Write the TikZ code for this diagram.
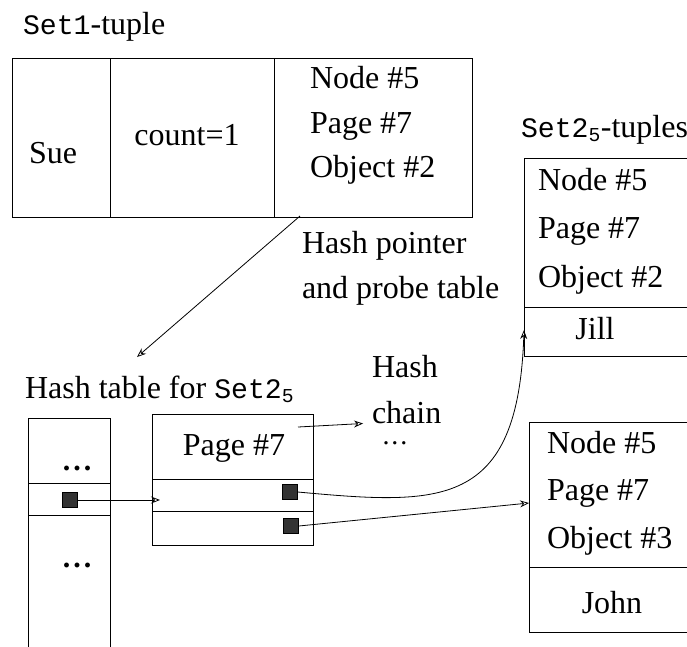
\documentclass[tikz,border=0pt]{standalone}
\usepackage{fontspec}
\setmainfont{Liberation Serif}
\setmonofont[Scale=0.88]{Liberation Mono}
\usetikzlibrary{arrows.meta,calc}

\tikzset{
  box/.style={draw, line width=0.9pt, inner sep=0pt, outer sep=0pt, anchor=north west},
  txt/.style={inner sep=0pt, outer sep=0pt, anchor=base west, font=\fontsize{32}{38}\selectfont},
  txtc/.style={txt, anchor=base},
  ptr/.style={draw=black, fill=black!80, line width=0.5pt, minimum size=15pt, inner sep=0pt},
  arr/.style={line width=0.8pt, -{Stealth[open, length=9pt, width=7pt]}},
  rule/.style={line width=0.9pt},
}

\begin{document}
\begin{tikzpicture}[x=1pt, y=-1pt]
\useasboundingbox (0,0) rectangle (687,646);
\clip (0,0) rectangle (687,646);

% ---- the Set1 tuple ----
\node[txt] (set1lbl) at (23,34) {\texttt{Set1}-tuple};
\node[box, minimum width=460pt, minimum height=159pt] (tuple) at (12,58) {};
\draw[rule] (110,58) -- (110,217);
\draw[rule] (274,58) -- (274,217);
\node[txtc] (sue) at (53,163) {Sue};
\node[txtc] (count) at (187,145) {count=1};
\node[txt] (n1) at (310,88) {Node \#5};
\node[txt] (p1) at (310,133) {Page \#7};
\node[txt] (o1) at (310,177) {Object \#2};

\node[txt] (hp1) at (302,253) {Hash pointer};
\node[txt] (hp2) at (302,298) {and probe table};

% ---- hash table ----
\node[txt] (htlbl) at (25,398) {Hash table for \texttt{Set2}\textsubscript{\texttt{5}}};
\node[box, minimum width=82pt, minimum height=262pt] (htab) at (28,418) {};
\draw[rule] (28,483) -- (110,483);
\draw[rule] (28,515) -- (110,515);
\node[txtc, font=\fontsize{30}{34}\selectfont\bfseries] (dots1) at (77,470) {.\kern3pt.\kern3pt.};
\node[txtc, font=\fontsize{30}{34}\selectfont\bfseries] (dots2) at (77,567) {.\kern3pt.\kern3pt.};
\node[ptr] (sq0) at (70,500) {};

% ---- hash chain page ----
\node[box, minimum width=161pt, minimum height=131pt] (chainbox) at (152,414) {};
\draw[rule] (152,479) -- (313,479);
\draw[rule] (152,511) -- (313,511);
\node[txtc] (cpage) at (234,455) {Page \#7};
\node[ptr] (sq1) at (290,492) {};
\node[ptr] (sq2) at (291,526) {};
\coordinate (chainout) at (298,427);

\node[txt] (hashlbl) at (372,377) {Hash};
\node[txt] (chainlbl) at (372,423) {chain};
\node[txtc, font=\fontsize{28}{34}\selectfont, text height=4pt] (cdots) at (395,444) {.\kern2pt.\kern2pt.};

% ---- Set2_5 tuples ----
\node[txt] (set2lbl) at (521,137) {\texttt{Set2}\textsubscript{\texttt{5}}-tuples};
\node[box, minimum width=196pt, minimum height=198pt] (jillbox) at (524,158) {};
\draw[rule] (524,307) -- (687,307);
\node[txt] (jn) at (538,190) {Node \#5};
\node[txt] (jp) at (538,238) {Page \#7};
\node[txt] (jo) at (538,287) {Object \#2};
\node[txtc] (jill) at (595,339) {Jill};

\node[box, minimum width=191pt, minimum height=210pt] (johnbox) at (529,422) {};
\draw[rule] (529,567) -- (687,567);
\node[txt] (kn) at (547,453) {Node \#5};
\node[txt] (kp) at (547,500) {Page \#7};
\node[txt] (ko) at (547,548) {Object \#3};
\node[txtc] (john) at (612,613) {John};

% ---- pointers ----
\coordinate (hpstart) at (300,216);
\coordinate (hpend) at (137,357);
\draw[arr] (hpstart) -- (hpend);
\draw[arr] (sq0.east) -- ([xshift=8pt]chainbox.west |- sq0);
\draw[arr, shorten >=9pt] (chainout) -- (chainlbl.base west);
\draw[arr] (sq1.east) .. controls (440,505) and (518,510) .. ([yshift=9pt]jillbox.west |- jill.base);
\draw[arr] (sq2.east) -- ([yshift=-3pt]johnbox.west |- kp.base);
\end{tikzpicture}
\end{document}
